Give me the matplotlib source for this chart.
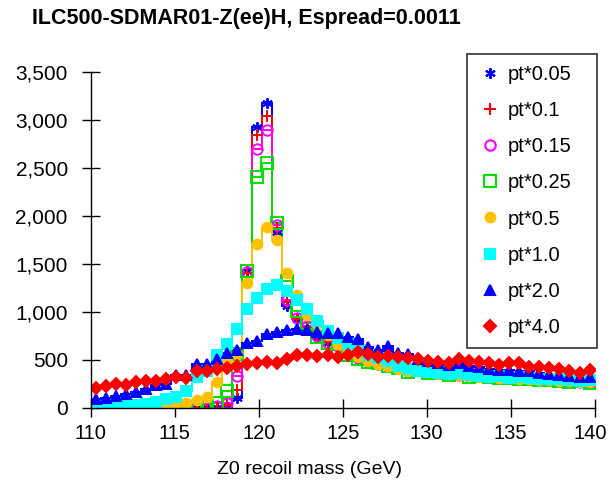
import numpy as np
import matplotlib
matplotlib.use('Agg')
import matplotlib.pyplot as plt
import matplotlib.transforms as mtransforms
from matplotlib.lines import Line2D
from matplotlib.ticker import FuncFormatter

plt.rcParams['font.family'] = ['Liberation Sans', 'DejaVu Sans']

# histogram binning: 50 bins of 0.6 GeV from 110 to 140
edges = np.linspace(110, 140, 51)

labels = ['pt*0.05', 'pt*0.1', 'pt*0.15', 'pt*0.25', 'pt*0.5', 'pt*1.0', 'pt*2.0', 'pt*4.0']

pt005 = [0, 0, 0, 0, 0, 0, 0, 0, 0, 0, 0, 0, 0, 10, 100,
         1420, 2930, 3180, 1830, 1060, 920, 820, 740, 680, 630,
         580, 540, 500, 470, 450, 420, 400, 390, 380, 370,
         355, 350, 340, 335, 330, 320, 315, 310, 305, 300,
         295, 290, 285, 280, 270]
pt01 = [0, 0, 0, 0, 0, 0, 0, 0, 0, 0, 0, 0, 0, 25, 190,
        1400, 2840, 3040, 1870, 1100, 930, 840, 760, 690, 620,
        590, 530, 510, 480, 440, 430, 400, 385, 375, 360,
        365, 345, 340, 330, 335, 315, 320, 305, 300, 305,
        290, 285, 290, 275, 265]
pt015 = [0, 0, 0, 0, 0, 0, 0, 0, 0, 0, 0, 0, 15, 50, 335,
         1410, 2700, 2890, 1900, 1120, 940, 850, 750, 680, 640,
         570, 520, 490, 460, 445, 410, 380, 390, 370, 365,
         350, 345, 330, 340, 320, 325, 310, 300, 305, 295,
         285, 290, 275, 270, 255]
pt025 = [0, 0, 0, 0, 0, 0, 0, 0, 0, 0, 0, 15, 50, 175, 560,
         1420, 2400, 2550, 1920, 1320, 1010, 880, 740, 670, 600,
         550, 510, 480, 465, 430, 410, 375, 395, 365, 360,
         345, 350, 325, 330, 320, 310, 315, 295, 300, 290,
         285, 280, 270, 275, 260]
pt05 = [0, 0, 0, 0, 0, 0, 0, 30, 35, 45, 80, 115, 270, 490, 560,
        1300, 1710, 1880, 1750, 1400, 1180, 970, 870, 760, 650,
        590, 530, 490, 460, 430, 405, 385, 380, 370, 355,
        350, 340, 335, 325, 320, 315, 305, 300, 300, 290,
        285, 280, 275, 270, 265]
pt10 = [20, 20, 20, 20, 25, 40, 60, 95, 115, 170, 320, 380, 550, 660, 820,
        1030, 1140, 1240, 1280, 1220, 1120, 1030, 900, 800, 730,
        660, 600, 550, 520, 490, 430, 400, 380, 370, 360,
        350, 360, 345, 330, 320, 330, 310, 320, 310, 300,
        300, 295, 290, 280, 290]
pt20 = [90, 100, 120, 140, 160, 195, 240, 250, 340, 345, 455, 460, 510, 570, 600,
        680, 700, 770, 790, 815, 820, 810, 790, 780, 775,
        740, 720, 630, 600, 640, 575, 560, 510, 490, 470,
        450, 470, 430, 420, 400, 395, 390, 385, 380, 360,
        350, 340, 330, 320, 325]
pt40 = [210, 225, 245, 240, 265, 275, 280, 300, 320, 310, 385, 380, 400, 415, 430,
        460, 470, 480, 470, 510, 550, 545, 540, 545, 530,
        545, 580, 560, 530, 540, 525, 515, 510, 490, 480,
        470, 510, 490, 475, 470, 450, 465, 470, 420, 425,
        410, 400, 380, 360, 390]

series = [pt005, pt01, pt015, pt025, pt05, pt10, pt20, pt40]
colors = ['#0000ff', '#ff0000', '#ff00ff', '#00e000', '#ffc000', '#00ffff', '#0000ff', '#ff0000']
markers = [(6, 2, 0), '+', 'o', 's', 'o', 's', '^', 'D']
filled = [True, True, False, False, True, True, True, True]
msizes = [7.5, 8, 7.5, 8, 7, 7.5, 7, 6.5]

fig = plt.figure(figsize=(6.1, 4.82), dpi=100)
ax = fig.add_axes([0.1487, 0.154, 0.8262, 0.697])

centers = (edges[:-1] + edges[1:]) / 2
handles = []
for vals, c, m, f, ms, lab in zip(series, colors, markers, filled, msizes, labels):
    vals = np.array(vals)
    ax.stairs(vals, edges, baseline=None, color=c, lw=1.4)
    ax.vlines(edges[0], 0, vals[0], color=c, lw=1.4)
    mfc = c if f else 'none'
    ax.plot(centers, vals, ls='none', marker=m, ms=ms, mec=c, mfc=mfc, mew=1.4)
    handles.append(Line2D([], [], ls='none', marker=m, ms=ms, mec=c, mfc=mfc, mew=1.5))

ax.set_xlim(110, 140)
ax.set_ylim(0, 3500)
ax.set_xticks(np.arange(110, 141, 5))
ax.set_yticks(np.arange(0, 3501, 500))
ax.yaxis.set_major_formatter(FuncFormatter(lambda v, p: '{:,.0f}'.format(v)))
for s in ['top', 'right']:
    ax.spines[s].set_visible(False)
for s in ['left', 'bottom']:
    ax.spines[s].set_linewidth(1.0)
ax.tick_params(axis='both', direction='inout', length=13, width=1.0)
ax.tick_params(axis='x', pad=5, labelsize=14.5)
ax.tick_params(axis='y', pad=10, labelsize=15)

# nudge the last x label so it stays inside the picture
last = ax.get_xticklabels()[-1]
last.set_transform(last.get_transform() +
                   mtransforms.ScaledTranslation(-4 / 100, 0, fig.dpi_scale_trans))

fig.text(0.0525, 0.962, 'ILC500-SDMAR01-Z(ee)H, Espread=0.0011', fontsize=15.5,
         fontweight='bold', ha='left', va='center')
fig.text(0.507, 0.025, 'Z0 recoil mass (GeV)', fontsize=14, ha='center', va='center')

leg = fig.legend(handles, labels, loc='upper left', mode='expand',
                 bbox_to_anchor=(467 / 610, 0.1, 130 / 610, 0.788),
                 borderaxespad=0, fontsize=14.5, frameon=True, fancybox=False,
                 edgecolor='black', labelspacing=0.85, handletextpad=0.25,
                 borderpad=0.55, handlelength=1.2)
leg.get_frame().set_linewidth(1.2)

fig.savefig('out.png', dpi=100)
